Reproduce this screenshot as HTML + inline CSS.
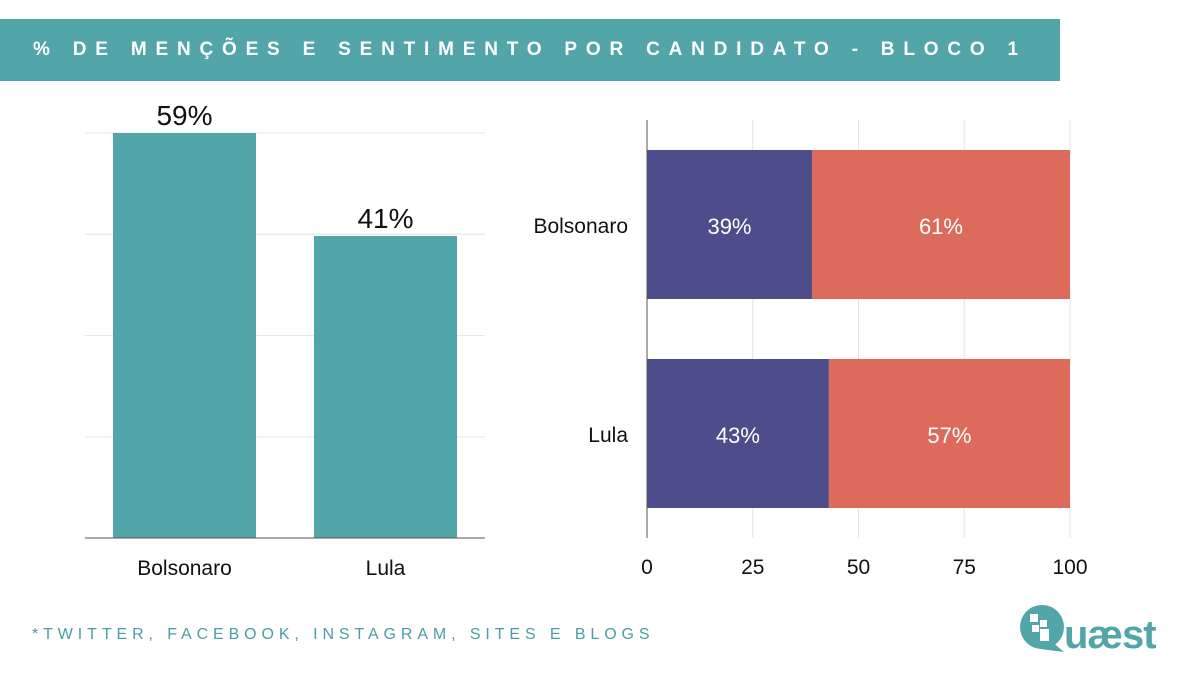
<!DOCTYPE html>
<html><head><meta charset="utf-8"><style>
body{margin:0;width:1200px;height:673px;background:#fff;overflow:hidden;font-family:"Liberation Sans",sans-serif;}
#banner{position:absolute;left:0;top:19px;width:1060px;height:62px;background:#52a6a9;}
#banner span{position:absolute;left:33px;top:20px;color:#fff;font-weight:bold;font-size:19px;letter-spacing:8.8px;white-space:nowrap;}
#foot{position:absolute;left:32px;top:626px;color:#4a9ea3;font-size:16px;letter-spacing:4.9px;white-space:nowrap;}
svg{position:absolute;left:0;top:0;}
</style></head><body>
<div id="banner"><span>% DE MENÇÕES E SENTIMENTO POR CANDIDATO - BLOCO 1</span></div>
<svg id="c" width="1200" height="673"></svg>
<div id="foot">*TWITTER, FACEBOOK, INSTAGRAM, SITES E BLOGS</div>
<svg width="1200" height="673">
<circle cx="1042" cy="627" r="22" fill="#52a6a9"/>
<path d="M1050 640 L1064 652 L1040 649 Z" fill="#52a6a9"/>
<rect x="1030" y="614" width="8" height="8" fill="#fff"/><rect x="1040" y="620" width="7" height="7" fill="#fff"/><rect x="1032" y="625" width="7" height="7" fill="#fff"/><rect x="1040" y="629" width="9" height="12" fill="#fff"/>
<text x="1064" y="648" font-size="40" font-weight="bold" fill="#52a6a9" font-family="Liberation Sans,sans-serif" letter-spacing="-1">uæst</text>
</svg>
<script>
const cats=["Bolsonaro","Lula"];
const mentions=[59,41];
const positive=[39,43];
const negative=[61,57];
const xTicks=[0,25,50,75,100];
const NS="http://www.w3.org/2000/svg";
const svg=document.getElementById('c');
function el(t,a,txt){const e=document.createElementNS(NS,t);for(const k in a)e.setAttribute(k,a[k]);if(txt!=null)e.textContent=txt;svg.appendChild(e);return e;}
const yLeft=v=>538-(v+11.8)*405/70.8;
for(let i=0;i<4;i++){const g=el('line',{x1:85,x2:485,y1:133+i*101.3,y2:133+i*101.3,stroke:'#e4e4e4'});
}
const bx=[113,314];
cats.forEach((c,i)=>{
 const r=el('rect',{x:bx[i],y:yLeft(mentions[i]),width:143,height:538-yLeft(mentions[i]),fill:'#52a6a9'});
 
 const t=el('text',{x:bx[i]+71.5,y:yLeft(mentions[i])-8,'text-anchor':'middle','font-size':28,fill:'#111'},mentions[i]+'%');
 
 const l=el('text',{x:bx[i]+71.5,y:575,'text-anchor':'middle','font-size':21,fill:'#111'},c);
 
});
const ax=el('line',{x1:85,x2:485,y1:538,y2:538,stroke:'#555'});

const xR=v=>647+v*4.23;
xTicks.forEach(v=>{
 if(v>0){const g=el('line',{x1:xR(v),x2:xR(v),y1:120,y2:538,stroke:'#e4e4e4'});
 }
 const t=el('text',{x:xR(v),y:574,'text-anchor':'middle','font-size':21,fill:'#111'},v);
 
});
const by=[150,359];
cats.forEach((c,i)=>{
 const p=el('rect',{x:xR(0),y:by[i],width:xR(positive[i])-xR(0),height:149,fill:'#4d4d8b'});
 
 const n=el('rect',{x:xR(positive[i]),y:by[i],width:xR(positive[i]+negative[i])-xR(positive[i]),height:149,fill:'#dc6b5c'});
 
 const t1=el('text',{x:(xR(0)+xR(positive[i]))/2,y:by[i]+84,'text-anchor':'middle','font-size':22,fill:'#fff'},positive[i]+'%');
 
 const t2=el('text',{x:(xR(positive[i])+xR(100))/2,y:by[i]+84,'text-anchor':'middle','font-size':22,fill:'#fff'},negative[i]+'%');
 
 const l=el('text',{x:628,y:by[i]+83,'text-anchor':'end','font-size':21,fill:'#111'},c);
 
});
const ay=el('line',{x1:647,x2:647,y1:120,y2:538,stroke:'#555'});

</script>
</body></html>
